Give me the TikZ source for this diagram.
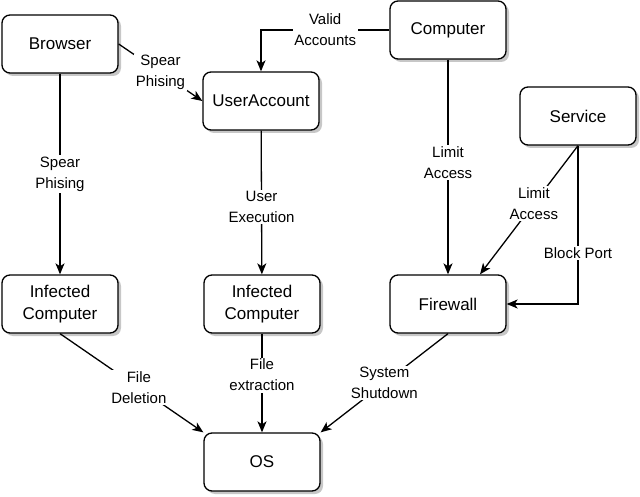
\documentclass[tikz,border=0pt]{standalone}
\usepackage{fontspec}
\setmainfont{Liberation Sans}
\usetikzlibrary{shadows,arrows.meta,calc}
\begin{document}
\begin{tikzpicture}[x=1pt,y=-1pt,
  box/.style={draw=black,line width=1.3pt,rounded corners=8pt,fill=white,
    minimum width=116pt,minimum height=58pt,align=center,inner sep=2pt,
    font=\fontsize{17}{22}\selectfont,
    drop shadow={shadow xshift=3pt,shadow yshift=-3pt,opacity=0.22,fill=black}},
  conn/.style={line width=1.3pt,-{Stealth[length=11pt,width=9pt,inset=3pt]}},
  lbl/.style={fill=white,align=center,inner sep=1.5pt,font=\fontsize{15}{21}\selectfont}
]
\useasboundingbox (0,0) rectangle (640,497);
\node[box] (browser) at (60,44) {Browser};
\node[box] (ua) at (261,101) {UserAccount};
\node[box] (comp) at (448,30) {Computer};
\node[box] (serv) at (578,116) {Service};
\node[box] (inf1) at (60,304) {Infected\\Computer};
\node[box] (inf2) at (262,304) {Infected\\Computer};
\node[box] (fw) at (448,304) {Firewall};
\node[box] (os) at (262,462) {OS};

\draw[conn] (browser.east) -- node[lbl] {Spear\\Phising} (ua.west);
\draw[conn] (comp.west) -| node[lbl,pos=0.25] {Valid\\Accounts} (ua.north);
\draw[conn] (browser) -- node[lbl] {Spear\\Phising} (inf1);
\draw[conn] (ua) -- node[lbl,pos=0.53] {User\\Execution} (inf2);
\draw[conn] (comp) -- node[lbl,pos=0.48] {Limit\\Access} (fw);
\coordinate (fwin) at ($(fw.north)+(32,0)$);
\draw[conn] (serv.south) -- node[lbl,pos=0.45] {Limit\\Access} (fwin);
\draw[conn] (serv.south) |- node[lbl,pos=0.34] {Block Port} (fw.east);
\draw[conn] (inf1.south) -- node[lbl,pos=0.55] {File\\Deletion} (os.north west);
\draw[conn] (inf2) -- node[lbl,pos=0.42] {File\\extraction} (os);
\draw[conn] (fw.south) -- node[lbl] {System\\Shutdown} (os.north east);
\end{tikzpicture}
\end{document}
